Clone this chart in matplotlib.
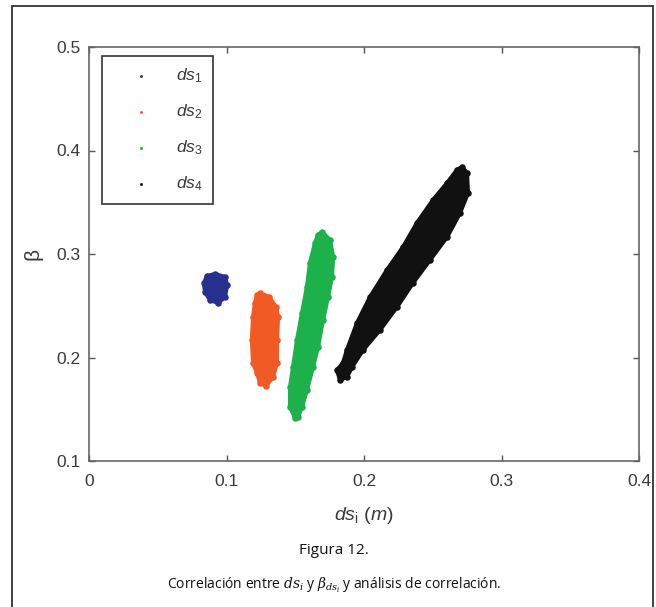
import matplotlib
matplotlib.use("Agg")
import matplotlib.pyplot as plt
from matplotlib.patches import Rectangle, Polygon

plt.rcParams['font.family'] = ['Liberation Sans', 'DejaVu Sans']
plt.rcParams['mathtext.fontset'] = 'custom'
plt.rcParams['mathtext.rm'] = 'Liberation Sans'
plt.rcParams['mathtext.it'] = 'Liberation Sans:italic'
plt.rcParams['mathtext.bf'] = 'Liberation Sans:bold'

# ---- data (outlines of each point cloud) ----
series_labels = [r'$\mathit{ds}_1$', r'$\mathit{ds}_2$', r'$\mathit{ds}_3$', r'$\mathit{ds}_4$']
series_colors = ['#27308f', '#f15a24', '#1db14b', '#111111']

ds1_x = [0.0858, 0.0916, 0.0989, 0.1004, 0.0989, 0.0938, 0.0880, 0.0844, 0.0836]
ds1_y = [0.2787, 0.2807, 0.2778, 0.2700, 0.2585, 0.2527, 0.2556, 0.2633, 0.2720]

ds2_x = [0.1244, 0.1309, 0.1360, 0.1375, 0.1367, 0.1367, 0.1338, 0.1287, 0.1244,
         0.1222, 0.1193, 0.1185, 0.1193, 0.1207, 0.1222]
ds2_y = [0.2623, 0.2585, 0.2488, 0.2391, 0.2169, 0.1947, 0.1812, 0.1725, 0.1754,
         0.1850, 0.1947, 0.2169, 0.2391, 0.2527, 0.2604]

ds3_x = [0.1695, 0.1753, 0.1775, 0.1767, 0.1738, 0.1702, 0.1665, 0.1629, 0.1585,
         0.1549, 0.1520, 0.1498, 0.1462, 0.1462, 0.1484, 0.1513, 0.1549, 0.1585,
         0.1607, 0.1644, 0.1665]
ds3_y = [0.3213, 0.3135, 0.2971, 0.2778, 0.2585, 0.2362, 0.2101, 0.1908, 0.1686,
         0.1522, 0.1425, 0.1415, 0.1522, 0.1715, 0.1908, 0.2169, 0.2430, 0.2681,
         0.2913, 0.3106, 0.3184]

ds4_x = [0.2713, 0.2749, 0.2756, 0.2698, 0.2604, 0.2480, 0.2356, 0.2240, 0.2116,
         0.1993, 0.1913, 0.1876, 0.1825, 0.1804, 0.1847, 0.1876, 0.1949, 0.2044,
         0.2167, 0.2284, 0.2385, 0.2502, 0.2604, 0.2676]
ds4_y = [0.3841, 0.3783, 0.3589, 0.3396, 0.3164, 0.2942, 0.2720, 0.2488, 0.2266,
         0.2072, 0.1908, 0.1812, 0.1783, 0.1879, 0.1947, 0.2072, 0.2333, 0.2585,
         0.2845, 0.3068, 0.3300, 0.3522, 0.3686, 0.3812]

x_ticks = [0, 0.1, 0.2, 0.3, 0.4]
x_tick_labels = ['0', '0.1', '0.2', '0.3', '0.4']
y_ticks = [0.1, 0.2, 0.3, 0.4, 0.5]
y_tick_labels = ['0.1', '0.2', '0.3', '0.4', '0.5']

series_x = [ds1_x, ds2_x, ds3_x, ds4_x]
series_y = [ds1_y, ds2_y, ds3_y, ds4_y]

# ---- figure ----
fig = plt.figure(figsize=(6.56, 6.07), dpi=100)
fig.patches.append(Rectangle((12/656, -0.02), (653-12)/656, 1 - 6/607 + 0.02,
                             transform=fig.transFigure, fill=False,
                             edgecolor='#333333', linewidth=1.3))

ax = fig.add_axes([89/656, 1 - 461/607, 550/656, 414/607])

for xs, ys, c, lab in zip(series_x, series_y, series_colors, series_labels):
    ax.add_patch(Polygon(list(zip(xs, ys)), closed=True, facecolor=c,
                         edgecolor=c, linewidth=3, joinstyle='round'))
    ax.scatter(xs, ys, s=22, color=c, label=lab, zorder=3, linewidths=0)

ax.set_xlim(0, 0.4)
ax.set_ylim(0.1, 0.5)
ax.set_xticks(x_ticks)
ax.set_xticklabels(x_tick_labels)
ax.set_yticks(y_ticks)
ax.set_yticklabels(y_tick_labels)
ax.tick_params(direction='in', length=4, width=1, top=True, right=True,
               labelsize=12.5, colors='#555555', labelcolor='#3a3a3a', pad=6)
ax.tick_params(axis='x', pad=9)
for sp in ax.spines.values():
    sp.set_color('#666666')
    sp.set_linewidth(1.2)

ax.set_xlabel(r'$\mathit{ds}_{\mathrm{i}}$ $(\mathit{m})$', fontsize=14, color='#3a3a3a', labelpad=12)
ax.set_ylabel('β', fontsize=15, color='#3a3a3a', labelpad=10)

leg = ax.legend(loc='upper left', bbox_to_anchor=(13/550, 1 - 9/414), borderaxespad=0,
                fancybox=False, edgecolor='#333333', fontsize=12.5, labelspacing=1.0,
                handletextpad=0.35, borderpad=0.6, handlelength=3.3, markerscale=0.45,
                framealpha=1)
leg.get_frame().set_linewidth(1.2)
for t in leg.get_texts():
    t.set_color('#3a3a3a')

fig.text(334/656, 1 - 551/607, 'Figura 12.', ha='center', va='center',
         fontsize=11, family=['Open Sans', 'DejaVu Sans'], color='#111111')
fig.text(334/656, 1 - 585/607,
         r'Correlación entre $ds_i$ y $\beta_{ds_i}$ y análisis de correlación.',
         ha='center', va='center', fontsize=10, family=['Open Sans', 'DejaVu Sans'],
         math_fontfamily='dejavuserif', color='#111111')

fig.savefig('out.png', dpi=100)
